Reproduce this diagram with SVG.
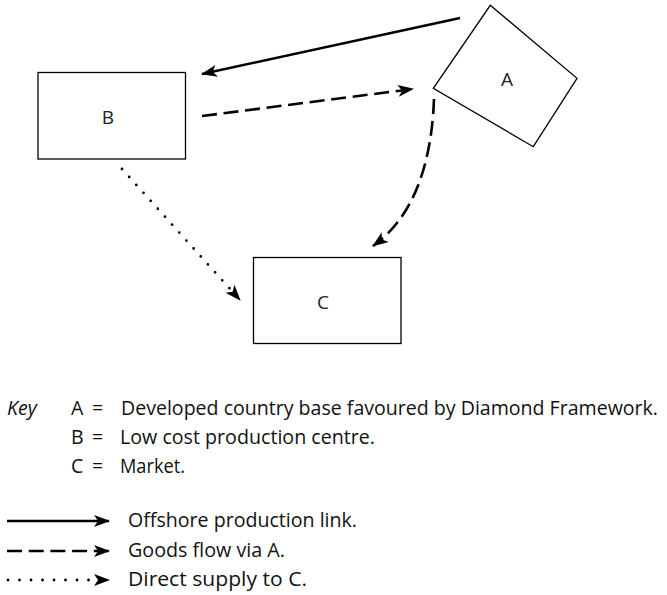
<svg xmlns="http://www.w3.org/2000/svg" width="667" height="595" viewBox="0 0 667 595">
<style>
.box{fill:#fff;stroke:#000;stroke-width:1.3}
.lbl{font-family:"Open Sans","Liberation Sans",sans-serif;font-size:19px;fill:#222;text-anchor:middle}
.key{font-family:"Open Sans","Liberation Sans",sans-serif;font-size:19.5px;fill:#111}
.ln{fill:none;stroke:#000;stroke-width:2.6}
.solid{marker-end:url(#ah)}
.dash{stroke-dasharray:15 6.7;marker-end:url(#ah)}
.dot{stroke-dasharray:0 10.7;stroke-linecap:round;stroke-width:2.8;marker-end:url(#ah)}
</style>
<defs>
<marker id="ah" markerUnits="userSpaceOnUse" markerWidth="18" markerHeight="14" refX="15" refY="6" orient="auto" overflow="visible">
<path d="M0,0 L16,6 L0,12 L4,6 Z" fill="#000"/>
</marker>
</defs>
<g id="connectors">
<path class="ln solid" d="M460,18 L202,74"/>
<path class="ln dash" d="M202,116 L413,89"/>
<path class="ln dash" d="M434,99 Q430,205 373,246"/>
<path class="ln dot" d="M122,169 L240,300"/>
</g>
<g id="node-A">
<polygon class="box" points="490.3,5.3 577,78.3 533.3,146.7 433.3,88.3"/>
<text class="lbl" x="507" y="86">A</text>
</g>
<g id="node-B">
<rect class="box" x="38" y="72.5" width="147.5" height="86.5"/>
<text class="lbl" x="108" y="124">B</text>
</g>
<g id="node-C">
<rect class="box" x="253.5" y="257.5" width="147.5" height="86"/>
<text class="lbl" x="323" y="309">C</text>
</g>
<g id="key">
<text class="key" x="7" y="415" font-style="italic">Key</text>
<text class="key" x="71" y="415">A</text>
<text class="key" x="92" y="415">=</text>
<text class="key" x="121" y="415" textLength="537" lengthAdjust="spacingAndGlyphs">Developed country base favoured by Diamond Framework.</text>
<text class="key" x="71" y="444">B</text>
<text class="key" x="92" y="444">=</text>
<text class="key" x="120" y="444" textLength="255" lengthAdjust="spacingAndGlyphs">Low cost production centre.</text>
<text class="key" x="71" y="473">C</text>
<text class="key" x="92" y="473">=</text>
<text class="key" x="120" y="473" textLength="65" lengthAdjust="spacingAndGlyphs">Market.</text>
</g>
<g id="legend">
<path class="ln solid" d="M7,521 L109,521"/>
<path class="ln dash" d="M7,551 L109,551"/>
<path class="ln dot" d="M8,580 L109,580" style="stroke-dasharray:0 11.5"/>
<text class="key" x="128" y="527" textLength="229" lengthAdjust="spacingAndGlyphs">Offshore production link.</text>
<text class="key" x="128" y="557" textLength="157" lengthAdjust="spacingAndGlyphs">Goods flow via A.</text>
<text class="key" x="128" y="586" textLength="179" lengthAdjust="spacingAndGlyphs">Direct supply to C.</text>
</g>
</svg>
